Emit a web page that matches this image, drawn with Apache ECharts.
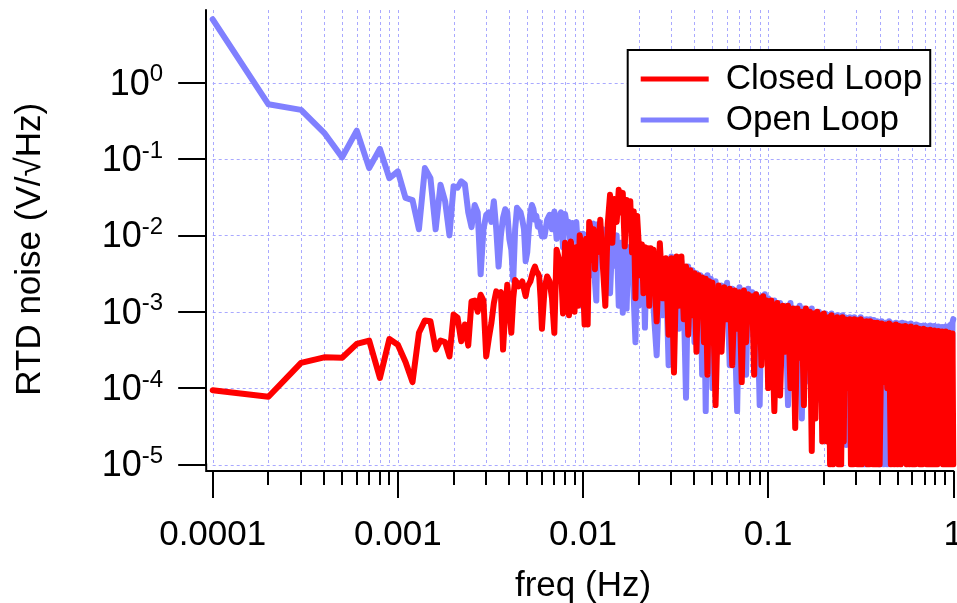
<!DOCTYPE html>
<html>
<head>
<meta charset="utf-8">
<script src="https://cdn.jsdelivr.net/npm/echarts@6/dist/echarts.min.js"></script>
<style>
  html, body { margin: 0; padding: 0; background: #fff; }
  #chart { width: 957px; height: 603px; }
</style>
</head>
<body>
<div id="chart"></div>
<script>
// Noise spectra stored like scaled waves: each block has a first bin frequency (Hz),
// a bin spacing (Hz) and the amplitude values (V/sqrt(Hz)).
const openA = [6.75, 0.52, 0.44, 0.22, 0.105, 0.235, 0.076, 0.136, 0.056, 0.069,
  0.031, 0.029, 0.012, 0.076, 0.056, 0.012, 0.046, 0.028, 0.010, 0.044,
  0.042, 0.051, 0.047, 0.020, 0.0128, 0.025, 0.020, 0.0031, 0.012, 0.0185,
  0.020, 0.015, 0.028, 0.012, 0.0039, 0.010, 0.017, 0.022, 0.020, 0.009,
  0.0065, 0.0026, 0.012, 0.023, 0.022, 0.020, 0.016, 0.012, 0.0046, 0.006,
  0.012, 0.020, 0.025, 0.022, 0.016, 0.018, 0.013, 0.015, 0.012, 0.0097];
const openB = [0.0097, 0.016, 0.0186, 0.012, 0.0205, 0.009, 0.017, 0.020, 0.007, 0.019,
  0.013, 0.015, 0.006, 0.0145, 0.011, 0.015, 0.0065, 0.0105, 0.0012, 0.0105,
  0.004, 0.010, 0.006, 0.0095, 0.003, 0.013, 0.0142, 0.0025, 0.0014, 0.014];
const openC = [0.006, 0.012, 0.004, 0.011, 0.00175, 0.009, 0.004, 0.010, 0.0012, 0.008,
  0.00097, 0.009, 0.0011, 0.007, 0.003, 0.008, 0.0015, 0.0004, 0.006, 0.0012,
  0.005, 0.0025, 0.0045, 0.00062, 0.004, 0.0015, 0.0042, 0.002, 0.0045, 0.0012];
const openD = [0.00027, 0.004, 0.0009, 0.0045, 0.0002, 0.0053, 0.0011, 0.005, 0.0006, 0.0045,
  0.0015, 0.000075, 0.0039, 0.0008, 0.0035, 0.0004, 0.0032, 0.0012, 0.003, 0.00015,
  0.0028, 0.00005, 0.003, 0.0003, 0.0027, 0.0001];
const openE = [0.0025, 0.0004, 0.0022, 0.0009, 0.0024, 0.0002, 0.002, 0.0006, 0.00005, 0.0021,
  0.0005, 0.0019, 0.00015, 0.002, 0.0007, 0.0018, 0.0003, 0.0017, 0.0006, 0.00006,
  0.0016, 0.0004, 0.0017, 0.00025, 0.0015];
const openF = [0.0003, 0.0014, 0.0001, 0.0013, 0.0004, 0.0012, 0.00006, 0.0013, 0.0002, 0.0011,
  0.0005, 0.0012, 0.00004, 0.0011, 0.0003, 0.001, 0.00012, 0.0011, 0.0004, 0.00095,
  0.00007, 0.001, 0.0002, 0.0009, 0.00015];
const openG = [0.00095, 0.0002, 0.0009, 0.00008, 0.00095, 0.0003, 0.00088, 0.00005, 0.0009, 0.00015,
  0.00085, 0.0002, 0.0009, 0.00006, 0.00085, 0.000018, 0.0008, 0.00002, 0.00085, 0.0001,
  0.0008, 0.00004, 0.00085, 0.0002, 0.0008, 0.00006, 0.0008, 0.00003, 0.00085, 0.00015,
  0.0008, 0.00001, 0.00078, 0.00001, 0.0008, 0.0001, 0.00075, 0.00004, 0.0008, 0.0002,
  0.00075, 0.00005, 0.00078, 0.00002, 0.00075, 0.0001, 0.00075, 0.00003, 0.00072, 0.00001];
const openH = [0.00075, 0.00001, 0.00072, 0.00001, 0.00075, 0.0001, 0.0007, 0.00005, 0.00072, 0.0002,
  0.0007, 0.00003, 0.00072, 0.000013, 0.0007, 0.0001, 0.00068, 0.00004, 0.0007, 0.00015,
  0.00066, 0.00003, 0.00068, 0.0001, 0.00066, 0.00005, 0.00065, 0.0002, 0.00066, 0.00002,
  0.00065, 0.00006, 0.00064, 0.0001, 0.00066, 0.00003, 0.00063, 0.00015, 0.00065, 0.00004,
  0.00062, 0.0001, 0.00064, 0.00002, 0.00062, 0.00008, 0.00063, 0.00003, 0.00062, 0.00012,
  0.00064, 0.00004, 0.00062, 0.0001, 0.00065, 0.00003, 0.00068, 0.0001, 0.00072, 0.0008];

const closedA = [9.4e-5, 7.7e-5, 2.14e-4, 2.53e-4, 2.5e-4, 3.8e-4, 4.2e-4, 1.36e-4, 4.4e-4, 3.7e-4,
  2.2e-4, 1.2e-4, 5.3e-4, 7.7e-4, 7.5e-4, 3.2e-4, 4.2e-4, 4.0e-4, 2.6e-4, 9.2e-4,
  8.4e-4, 4.1e-4, 6.8e-4, 3.6e-4, 1.37e-3, 1.4e-3, 1.0e-3, 1.67e-3, 1.4e-3, 2.6e-4,
  4.5e-4, 7.1e-4, 1.3e-3, 1.85e-3, 1.7e-3, 1.8e-3, 3.2e-4, 1.0e-3, 2.26e-3, 1.2e-3,
  5.3e-4, 1.5e-3, 2.6e-3, 2.4e-3, 2.15e-3, 2.2e-3, 2.5e-3, 2.0e-3, 1.6e-3, 2.1e-3,
  2.3e-3, 2.5e-3, 3.0e-3, 3.5e-3, 3.9e-3, 3.4e-3, 3.2e-3, 2.9e-3, 1.5e-3, 6.0e-4];
const closedB = [2.0e-3, 2.9e-3, 2.5e-3, 1.5e-3, 5.3e-4, 6.5e-3, 5.0e-3, 3.9e-3, 9.5e-4, 8.0e-3,
  6.5e-3, 9.0e-4, 8.3e-3, 5.3e-3, 1.0e-3, 7.0e-3, 1.2e-3, 1.0e-2, 7.0e-3, 2.4e-3,
  6.8e-4, 9.0e-3, 6.8e-4, 1.5e-2, 1.2e-2, 4.8e-3, 1.2e-2, 3.6e-3, 1.1e-2, 6.0e-3];
const closedC = [1.6e-2, 4.0e-3, 1.2e-3, 1.4e-2, 3.4e-2, 8.0e-3, 3.0e-2, 1.5e-2, 3.95e-2, 2.0e-2,
  3.6e-2, 7.2e-3, 2.9e-2, 1.2e-2, 2.8e-2, 6.0e-3, 2.05e-2, 1.5e-3, 1.8e-2, 7.6e-3,
  3.0e-3, 7.6e-3, 1.75e-3, 7.0e-3, 2.5e-3, 6.8e-3, 1.2e-3, 6.8e-3, 2.0e-3, 6.5e-3];
const closedD = [7.5e-4, 7.9e-3, 1.5e-3, 5.0e-3, 5.0e-4, 5.0e-3, 1.6e-4, 5.3e-3, 1.2e-3, 5.3e-3,
  8e-4, 3.9e-3, 5.0e-4, 3.5e-3, 9e-4, 3.2e-3, 3.0e-4, 3.0e-3, 1.0e-3, 2.8e-3,
  4.0e-4, 2.7e-3, 1.5e-4, 2.5e-3, 6.0e-4, 2.4e-3];
const closedE = [0.00006, 0.0022, 0.0003, 0.0021, 0.0008, 0.002, 0.0002, 0.0019, 0.0006, 0.0018,
  0.00012, 0.0019, 0.0004, 0.0017, 0.0009, 0.0016, 0.00015, 0.0017, 0.0005, 0.0015,
  0.0002, 0.0016, 0.0007, 0.0014, 0.0001];
const closedF = [0.0014, 0.00005, 0.0013, 0.00008, 0.0012, 0.0003, 0.0012, 0.0001, 0.0011, 0.00003,
  0.0011, 0.00025, 0.001, 0.00006, 0.0011, 0.0002, 0.001, 0.000015, 0.00095, 0.00004,
  0.001, 0.00012, 0.0009, 0.00002, 0.00095];
const closedG = [0.0009, 0.00002, 0.00085, 0.00001, 0.0009, 0.00001, 0.0008, 0.000015, 0.00085, 0.00001,
  0.0008, 0.00001, 0.00085, 0.00002, 0.0008, 0.00015, 0.00078, 0.0001, 0.0008, 0.00001,
  0.00075, 0.00001, 0.0008, 0.000012, 0.00078, 0.00001, 0.00075, 0.00001, 0.0008, 0.00001,
  0.00075, 0.00008, 0.00072, 0.00006, 0.00075, 0.00001, 0.0007, 0.00001, 0.00075, 0.000015,
  0.0007, 0.00001, 0.00072, 0.00001, 0.0007, 0.00001, 0.00072, 0.00001, 0.0007, 0.00001];
const closedH = [0.0007, 0.00012, 0.00068, 0.0001, 0.0007, 0.00001, 0.00066, 0.00001, 0.00068, 0.00001,
  0.00065, 0.00001, 0.00064, 0.00008, 0.00065, 0.00001, 0.00062, 0.00001, 0.00064, 0.00001,
  0.0006, 0.00001, 0.00062, 0.000012, 0.0006, 0.00001, 0.00058, 0.00001, 0.0006, 0.00004,
  0.00058, 0.00001, 0.00057, 0.00001, 0.00058, 0.00001, 0.00055, 0.00001, 0.00057, 0.00001,
  0.00055, 0.00001, 0.00056, 0.000015, 0.00054, 0.00003, 0.00055, 0.00001, 0.00053, 0.00001,
  0.00055, 0.00001, 0.00052, 0.00001, 0.00053, 0.00001, 0.0005, 0.00001, 0.00052, 0.00001];

// Block layout shared by both spectra: [first bin (Hz), bin spacing (Hz)]
const blockBins = [[0.0001, 0.0001], [0.0062, 0.0002], [0.0124, 0.0004], [0.025, 0.001],
  [0.052, 0.002], [0.104, 0.004], [0.204, 0.004], [0.41, 0.01]];
const openBlocks = [openA, openB, openC, openD, openE, openF, openG, openH];
const closedBlocks = [closedA, closedB, closedC, closedD, closedE, closedF, closedG, closedH];

// Axis ticks
const xTickValues = [0.0001, 0.001, 0.01, 0.1, 1];
const xTickLabels = ['0.0001', '0.001', '0.01', '0.1', '1'];
const xMinorValues = [0.0002, 0.0003, 0.0004, 0.0005, 0.0006, 0.0007, 0.0008, 0.0009,
  0.002, 0.003, 0.004, 0.005, 0.006, 0.007, 0.008, 0.009,
  0.02, 0.03, 0.04, 0.05, 0.06, 0.07, 0.08, 0.09,
  0.2, 0.3, 0.4, 0.5, 0.6, 0.7, 0.8, 0.9];
const yTickValues = [1e-5, 1e-4, 1e-3, 1e-2, 1e-1, 1];
const yTickExponents = ['-5', '-4', '-3', '-2', '-1', '0'];
const yMin = 1e-5, yMax = 8.93, xMin = 0.0001, xMax = 1;

function toPairs(blocks) {
  const out = [];
  blocks.forEach((vals, b) => {
    const [f0, df] = blockBins[b];
    vals.forEach((v, i) => out.push([+(f0 + i * df).toFixed(6), v]));
  });
  return out;
}
const openData = toPairs(openBlocks);
const closedData = toPairs(closedBlocks);

const FONT = "'Liberation Sans', Arial, Helvetica, sans-serif";
const GRID_COLOR = '#a9a9ff';
const AXIS_OFFSET = 6.5;
const LINE_W = 6;

const chart = echarts.init(document.getElementById('chart'), null, { renderer: 'canvas' });

// Grid lines, minor ticks and the axis corner drawn in pixel space of the grid
function gridRenderer(kind) {
  return function (params, api) {
    const cs = params.coordSys;
    const bottom = cs.y + cs.height;
    const children = [];
    if (kind === 'h') {
      const y = Math.round(api.coord([xMin, api.value(1)])[1]) + 0.5;
      children.push({ type: 'line', shape: { x1: cs.x, y1: y, x2: cs.x + cs.width, y2: y },
        style: { stroke: GRID_COLOR, lineWidth: 1, lineDash: [3, 3] } });
    } else if (kind === 'corner') {
      const ax = cs.x - AXIS_OFFSET, ay = bottom + AXIS_OFFSET;
      children.push({ type: 'polyline', shape: { points: [[ax, bottom - 1], [ax, ay], [cs.x + 1, ay]] },
        style: { stroke: '#000', lineWidth: 2, fill: null } });
    } else {
      const x = Math.round(api.coord([api.value(0), yMin])[0]) + 0.5;
      children.push({ type: 'line', shape: { x1: x, y1: cs.y, x2: x, y2: bottom },
        style: { stroke: GRID_COLOR, lineWidth: 1, lineDash: [3, 3] } });
      if (kind === 'minor') {
        const xt = Math.round(x - 0.5);
        children.push({ type: 'line', shape: { x1: xt, y1: bottom + AXIS_OFFSET, x2: xt, y2: bottom + AXIS_OFFSET + 14 },
          style: { stroke: '#000', lineWidth: 2 } });
      }
    }
    return { type: 'group', children };
  };
}

chart.setOption({
  animation: false,
  backgroundColor: '#fff',
  grid: { left: 212.7, right: 3.7, top: 10, bottom: 138.5, containLabel: false, outerBoundsMode: 'none' },
  legend: {
    data: ['Closed Loop', 'Open Loop'],
    orient: 'vertical',
    left: 627.7,
    top: 50,
    padding: [9, 8, 6, 13],
    icon: 'rect',
    itemWidth: 68,
    itemHeight: 5,
    itemGap: 1,
    backgroundColor: '#fff',
    borderColor: '#000',
    borderWidth: 2,
    borderRadius: 0,
    selectedMode: false,
    textStyle: { fontFamily: FONT, fontSize: 35, color: '#000', lineHeight: 40, padding: [0, 0, 0, 12] }
  },
  xAxis: {
    type: 'log',
    logBase: 10,
    min: xMin,
    max: xMax,
    offset: AXIS_OFFSET,
    name: 'freq (Hz)',
    nameLocation: 'middle',
    nameGap: 98,
    nameTextStyle: { fontFamily: FONT, fontSize: 35, color: '#000' },
    axisLine: { show: true, lineStyle: { color: '#000', width: 2 } },
    axisTick: { show: true, length: 27, customValues: xTickValues, lineStyle: { color: '#000', width: 2 } },
    axisLabel: {
      customValues: xTickValues,
      margin: 47,
      alignMinLabel: 'center',
      alignMaxLabel: 'center',
      fontFamily: FONT, fontSize: 35, color: '#000',
      formatter: (v) => xTickLabels[xTickValues.findIndex(t => Math.abs(Math.log10(t) - Math.log10(v)) < 1e-6)]
    },
    splitLine: { show: false },
    minorTick: { show: false },
    minorSplitLine: { show: false }
  },
  yAxis: {
    type: 'log',
    logBase: 10,
    min: yMin,
    max: yMax,
    offset: AXIS_OFFSET,
    name: 'RTD noise (V/\u221AHz)',
    nameLocation: 'middle',
    nameGap: 158,
    nameTextStyle: { fontFamily: FONT, fontSize: 35, color: '#000', padding: [0, 24, 0, 0] },
    axisLine: { show: true, lineStyle: { color: '#000', width: 2 } },
    axisTick: { show: true, length: 28, customValues: yTickValues, lineStyle: { color: '#000', width: 2 } },
    axisLabel: {
      customValues: yTickValues,
      margin: 43,
      align: 'right',
      formatter: (v) => {
        const i = yTickValues.findIndex(t => Math.abs(Math.log10(t) - Math.log10(v)) < 1e-6);
        return '{b|10}{e|' + yTickExponents[i] + '}';
      },
      rich: {
        b: { fontFamily: FONT, fontSize: 36, color: '#000', lineHeight: 40, verticalAlign: 'bottom', align: 'right' },
        e: { fontFamily: FONT, fontSize: 24, color: '#000', lineHeight: 24, verticalAlign: 'top', align: 'right' }
      }
    },
    splitLine: { show: false },
    minorTick: { show: false },
    minorSplitLine: { show: false }
  },
  series: [
    {
      type: 'custom', name: 'xMajorGrid', silent: true, clip: false, z: 1,
      renderItem: gridRenderer('major'),
      data: xTickValues.map(v => [v, yMin])
    },
    {
      type: 'custom', name: 'xMinorGrid', silent: true, clip: false, z: 1,
      renderItem: gridRenderer('minor'),
      data: xMinorValues.map(v => [v, yMin])
    },
    {
      type: 'custom', name: 'yMajorGrid', silent: true, clip: false, z: 1,
      renderItem: gridRenderer('h'),
      data: yTickValues.map(v => [xMin, v])
    },
    {
      type: 'custom', name: 'axisCorner', silent: true, clip: false, z: 6,
      renderItem: gridRenderer('corner'),
      data: [[xMin, yMin]]
    },
    {
      name: 'Open Loop',
      type: 'line',
      data: openData,
      symbol: 'none',
      showSymbol: false,
      clip: true,
      z: 3,
      color: '#8080ff',
      lineStyle: { color: '#8080ff', width: LINE_W, join: 'round', cap: 'round' }
    },
    {
      name: 'Closed Loop',
      type: 'line',
      data: closedData,
      symbol: 'none',
      showSymbol: false,
      clip: true,
      z: 4,
      color: '#ff0000',
      lineStyle: { color: '#ff0000', width: LINE_W, join: 'round', cap: 'round' }
    }
  ]
});
</script>
</body>
</html>
